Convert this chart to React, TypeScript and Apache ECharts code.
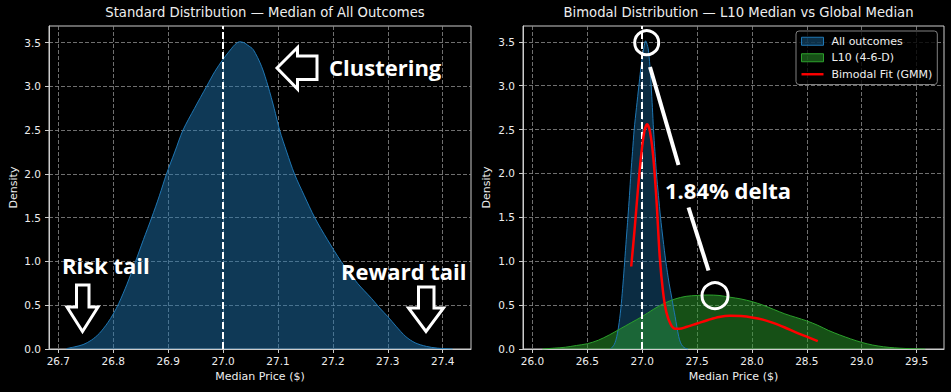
import React, { useEffect, useRef } from 'react';
import * as echarts from 'echarts';

// KDE of all simulated medians (same curve used in both panels)
const allX = [26.715, 26.73, 26.745, 26.76, 26.775, 26.79, 26.8, 26.81, 26.825, 26.84, 26.855, 26.87, 26.884, 26.897, 26.912, 26.927, 26.948, 26.97, 26.985, 27.0, 27.015, 27.022, 27.03, 27.038, 27.045, 27.055, 27.07, 27.082, 27.093, 27.103, 27.116, 27.13, 27.148, 27.167, 27.19, 27.215, 27.245, 27.27, 27.285, 27.3, 27.315, 27.333, 27.35, 27.37, 27.39, 27.418];
const allY = [0.005, 0.025, 0.05, 0.1, 0.18, 0.3, 0.4, 0.52, 0.74, 0.99, 1.25, 1.5, 1.75, 2.0, 2.25, 2.5, 2.75, 3.0, 3.17, 3.31, 3.43, 3.48, 3.51, 3.5, 3.47, 3.42, 3.23, 3.0, 2.75, 2.5, 2.25, 2.0, 1.75, 1.5, 1.25, 1.0, 0.75, 0.58, 0.47, 0.37, 0.26, 0.14, 0.07, 0.03, 0.01, 0.0];

// KDE of L10 (4-6-D) medians
const l10X = [26.09, 26.2, 26.3, 26.4, 26.5, 26.6, 26.7, 26.8, 26.9, 27.0, 27.1, 27.2, 27.3, 27.4, 27.5, 27.6, 27.7, 27.8, 27.9, 28.0, 28.1, 28.2, 28.3, 28.4, 28.5, 28.6, 28.7, 28.8, 28.9, 29.0, 29.1, 29.2, 29.3, 29.4, 29.5, 29.58];
const l10Y = [0.0, 0.01, 0.02, 0.04, 0.06, 0.1, 0.16, 0.23, 0.3, 0.37, 0.45, 0.52, 0.57, 0.6, 0.61, 0.615, 0.61, 0.59, 0.57, 0.54, 0.5, 0.45, 0.4, 0.36, 0.32, 0.27, 0.21, 0.16, 0.115, 0.075, 0.045, 0.025, 0.013, 0.006, 0.002, 0.0];

// Bimodal fit (GMM)
const fitX = [26.9, 26.93, 26.96, 26.99, 27.02, 27.045, 27.07, 27.1, 27.13, 27.16, 27.19, 27.22, 27.26, 27.3, 27.34, 27.4, 27.5, 27.6, 27.7, 27.8, 27.9, 28.0, 28.1, 28.2, 28.3, 28.4, 28.5, 28.6];
const fitY = [0.94, 1.35, 1.8, 2.2, 2.48, 2.56, 2.48, 2.2, 1.7, 1.05, 0.65, 0.42, 0.28, 0.23, 0.23, 0.25, 0.29, 0.33, 0.365, 0.38, 0.375, 0.36, 0.335, 0.295, 0.245, 0.19, 0.14, 0.09];

const leftTicks = [26.7, 26.8, 26.9, 27.0, 27.1, 27.2, 27.3, 27.4];
const rightTicks = [26.0, 26.5, 27.0, 27.5, 28.0, 28.5, 29.0, 29.5];
const densityTicks = [0, 0.5, 1.0, 1.5, 2.0, 2.5, 3.0, 3.5];
const globalMedian = 27.0;

const titles = ['Standard Distribution — Median of All Outcomes', 'Bimodal Distribution — L10 Median vs Global Median'];
const seriesNames = ['All outcomes', 'L10 (4-6-D)', 'Bimodal Fit (GMM)'];

const pairs = (xs: number[], ys: number[]) => xs.map((x, i) => [x, ys[i]]);

const FONT = 'DejaVu Sans';
const TXT = '#eeeeee';
const SPINE = '#cccccc';
const GRIDC = '#8c8c8c';

function xAxisDef(idx: number, min: number, max: number, ticks: number[]) {
  return {
    type: 'value',
    gridIndex: idx,
    min,
    max,
    name: 'Median Price ($)',
    nameLocation: 'middle',
    nameGap: 21,
    nameTextStyle: { color: TXT, fontFamily: FONT, fontSize: 11 },
    axisLine: { show: true, lineStyle: { color: SPINE, width: 1 } },
    axisTick: { show: true, inside: false, length: 4, customValues: ticks, lineStyle: { color: SPINE } },
    axisLabel: { customValues: ticks, color: TXT, fontFamily: FONT, fontSize: 10.5, margin: 6, formatter: (v: number) => v.toFixed(1) },
    splitLine: { show: true, lineStyle: { color: GRIDC, type: [4, 2], width: 0.8 } },
  };
}

function yAxisDef(idx: number, max: number, gap: number) {
  return {
    type: 'value',
    gridIndex: idx,
    min: 0,
    max,
    name: 'Density',
    nameLocation: 'middle',
    nameGap: gap,
    nameTextStyle: { color: TXT, fontFamily: FONT, fontSize: 11 },
    axisLine: { show: true, lineStyle: { color: SPINE, width: 1 } },
    axisTick: { show: true, inside: false, length: 4, customValues: densityTicks, lineStyle: { color: SPINE } },
    axisLabel: { customValues: densityTicks, color: TXT, fontFamily: FONT, fontSize: 10.5, margin: 8, formatter: (v: number) => v.toFixed(1) },
    splitLine: { show: true, lineStyle: { color: GRIDC, type: [4, 2], width: 0.8 } },
  };
}

const medianLine = {
  silent: true,
  symbol: 'none',
  label: { show: false },
  lineStyle: { color: '#ffffff', type: [7, 3], width: 2 },
  data: [{ xAxis: globalMedian }],
};

const white = '#ffffff';
const annoText = (text: string, x: number, y: number) => ({
  type: 'text',
  x,
  y,
  z: 100,
  style: { text, fill: white, fontSize: 22, fontWeight: 'bold', fontFamily: 'Open Sans', align: 'left', verticalAlign: 'middle' },
});
const poly = (points: number[][]) => ({
  type: 'polygon',
  z: 100,
  shape: { points },
  style: { fill: '#000000', stroke: white, lineWidth: 3, lineJoin: 'miter' },
});

export default function App() {
  const ref = useRef<HTMLDivElement>(null);
  useEffect(() => {
    if (!ref.current) return;
    const chart = echarts.init(ref.current, undefined, { renderer: 'svg' });
    chart.setOption({
      animation: false,
      backgroundColor: '#000000',
      title: [
        { text: titles[0], left: 260, top: 1, textAlign: 'center', textStyle: { color: TXT, fontFamily: FONT, fontSize: 13.2, fontWeight: 'normal' } },
        { text: titles[1], left: 733.5, top: 1, textAlign: 'center', textStyle: { color: TXT, fontFamily: FONT, fontSize: 13.2, fontWeight: 'normal' } },
      ],
      grid: [
        { left: 49, top: 26, width: 422, height: 323, show: true, borderColor: SPINE, borderWidth: 1, backgroundColor: 'transparent' },
        { left: 523, top: 26, width: 421, height: 323, show: true, borderColor: SPINE, borderWidth: 1, backgroundColor: 'transparent' },
      ],
      xAxis: [xAxisDef(0, 26.683, 27.4515, leftTicks), xAxisDef(1, 25.914, 29.75, rightTicks)],
      yAxis: [yAxisDef(0, 3.69, 30), yAxisDef(1, 3.68, 31)],
      legend: {
        orient: 'vertical',
        left: 796,
        top: 31,
        padding: [4, 5, 4, 5],
        itemGap: 4,
        itemWidth: 22,
        itemHeight: 8,
        backgroundColor: 'rgba(0,0,0,0.8)',
        borderColor: '#808080',
        borderWidth: 1,
        borderRadius: 3,
        textStyle: { color: TXT, fontFamily: FONT, fontSize: 11, lineHeight: 12.5, padding: [0, 0, 0, 3] },
        data: [
          { name: seriesNames[0], icon: 'rect', itemStyle: { color: 'rgba(31,119,180,0.4)', borderColor: '#1f77b4', borderWidth: 1 } },
          { name: seriesNames[1], icon: 'rect', itemStyle: { color: 'rgba(44,160,44,0.5)', borderColor: '#2ca02c', borderWidth: 1 } },
          { name: seriesNames[2], icon: 'path://M0,0M0,2.8h22v2.4h-22zM22,8', itemStyle: { color: '#ff0000', borderWidth: 0 } },
        ],
        z: 50,
      },
      series: [
        {
          name: 'Median of all outcomes',
          type: 'line',
          xAxisIndex: 0,
          yAxisIndex: 0,
          data: pairs(allX, allY),
          smooth: 0.3,
          symbol: 'none',
          lineStyle: { color: '#1f77b4', width: 1 },
          itemStyle: { color: '#1f77b4' },
          areaStyle: { color: 'rgba(31,119,180,0.48)', opacity: 1, origin: 'start' },
          markLine: medianLine,
        },
        {
          name: seriesNames[0],
          type: 'line',
          xAxisIndex: 1,
          yAxisIndex: 1,
          data: pairs(allX, allY),
          smooth: 0.3,
          symbol: 'none',
          lineStyle: { color: '#1f77b4', width: 1 },
          itemStyle: { color: '#1f77b4' },
          areaStyle: { color: 'rgba(31,119,180,0.37)', opacity: 1, origin: 'start' },
        },
        {
          name: seriesNames[1],
          type: 'line',
          xAxisIndex: 1,
          yAxisIndex: 1,
          data: pairs(l10X, l10Y),
          smooth: 0.3,
          symbol: 'none',
          lineStyle: { color: '#2ca02c', width: 1 },
          itemStyle: { color: '#2ca02c' },
          areaStyle: { color: 'rgba(44,160,44,0.5)', opacity: 1, origin: 'start' },
        },
        {
          name: seriesNames[2],
          type: 'line',
          xAxisIndex: 1,
          yAxisIndex: 1,
          data: pairs(fitX, fitY),
          smooth: 0.3,
          symbol: 'none',
          lineStyle: { color: '#ff0000', width: 2.5 },
          itemStyle: { color: '#ff0000' },
          markLine: medianLine,
          z: 5,
        },
      ],
      graphic: [
        poly([[277, 68], [297.5, 47.5], [297.5, 56], [317, 56], [317, 79.5], [297.5, 79.5], [297.5, 89]]),
        annoText('Clustering', 329, 67),
        annoText('Risk tail', 62, 265),
        poly([[76.5, 285], [89, 285], [89, 307], [98, 307], [82.5, 331.5], [67, 307], [76.5, 307]]),
        annoText('Reward tail', 341, 271),
        poly([[418.5, 287], [434, 287], [434, 308], [443.5, 308], [426, 331.5], [408.5, 308], [418.5, 308]]),
        { type: 'circle', z: 100, shape: { cx: 646.7, cy: 42.7, r: 12 }, style: { fill: 'none', stroke: white, lineWidth: 3 } },
        { type: 'line', z: 100, shape: { x1: 650, y1: 67, x2: 678.5, y2: 165 }, style: { stroke: white, lineWidth: 4 } },
        annoText('1.84% delta', 665, 189.5),
        { type: 'line', z: 100, shape: { x1: 688.5, y1: 207.5, x2: 708.5, y2: 270.5 }, style: { stroke: white, lineWidth: 4 } },
        { type: 'circle', z: 100, shape: { cx: 715, cy: 295.7, r: 13 }, style: { fill: 'none', stroke: white, lineWidth: 3 } },
      ],
    });
    return () => chart.dispose();
  }, []);
  return <div ref={ref} style={{ position: 'fixed', left: 0, top: 0, width: 951, height: 392, background: '#000' }} />;
}
